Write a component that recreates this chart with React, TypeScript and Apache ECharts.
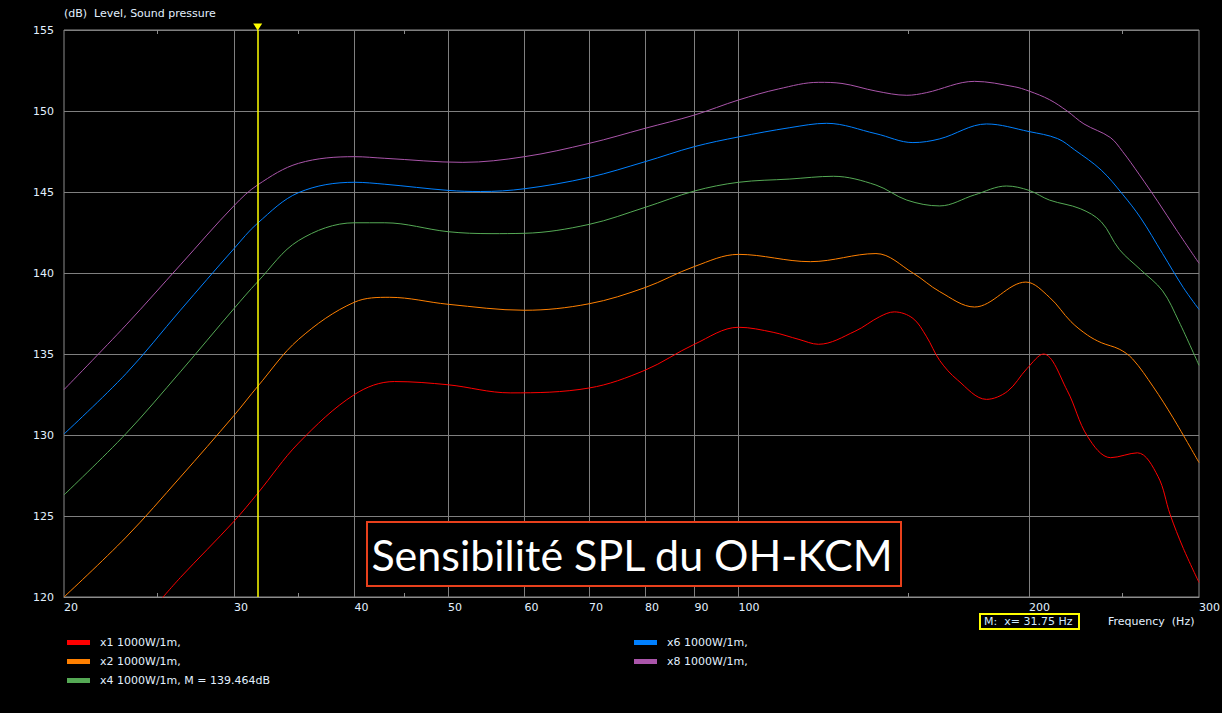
import React, { useEffect, useRef } from "react";
import * as echarts from "echarts";

// ---- Data (frequency in Hz, level in dB) ----
const FREQ_X1 = [25, 26.4, 30, 31.75, 35, 40, 44, 50, 58, 70, 80, 90, 100, 108.6, 115.5, 121, 132, 140, 145, 151.6, 156.5, 161.6, 168.6, 180.7, 190, 199, 207, 219, 230, 243, 259, 272, 280, 289, 300];
const LVL_X1 = [119.6, 121.2, 124.67, 126.4, 129.5, 132.5, 133.3, 133.1, 132.6, 132.9, 134.0, 135.6, 136.65, 136.34, 135.9, 135.6, 136.4, 137.3, 137.6, 137.2, 136.1, 134.6, 133.4, 132.2, 132.7, 134.1, 135.0, 132.76, 129.9, 128.6, 128.9, 127.45, 125.1, 123.0, 120.9];

const FREQ_X2 = [20, 23.2, 26.4, 30, 31.75, 35, 40, 43.5, 50, 60, 70, 80, 90, 100, 118.7, 138.8, 151.6, 161.6, 175.6, 198.5, 210, 221, 230, 237.6, 248, 256, 269, 282, 300];
const LVL_X2 = [120.0, 123.7, 127.4, 131.2, 133.0, 135.9, 138.2, 138.5, 138.07, 137.7, 138.1, 139.1, 140.4, 141.15, 140.7, 141.2, 140.0, 138.85, 137.9, 139.44, 138.5, 137.0, 136.16, 135.7, 135.3, 134.7, 132.97, 131.06, 128.3];

const FREQ_X4 = [20, 23.2, 26.4, 30, 31.75, 35, 40, 43, 50, 55.4, 60, 70, 80, 90, 100, 113, 125.4, 138.8, 149.4, 161.6, 175.6, 189.5, 200, 210, 226, 237.6, 248, 261, 275, 286, 300];
const LVL_X4 = [126.3, 130.1, 133.9, 137.8, 139.46, 142.0, 143.1, 143.1, 142.55, 142.43, 142.45, 143.0, 144.05, 145.06, 145.6, 145.8, 145.97, 145.43, 144.5, 144.14, 144.82, 145.37, 145.1, 144.5, 143.97, 143.16, 141.46, 140.2, 138.9, 137.0, 134.3];

const FREQ_X6 = [20, 23.2, 26.4, 30, 31.75, 35, 40, 43, 50, 54, 60, 70, 80, 90, 100, 113, 123.4, 138.8, 151.6, 161.6, 180.7, 200, 214, 223, 237.6, 250, 261, 275, 289, 300];
const LVL_X6 = [130.06, 133.8, 137.7, 141.5, 143.08, 144.96, 145.6, 145.48, 145.1, 145.03, 145.2, 145.9, 146.87, 147.8, 148.4, 148.97, 149.24, 148.6, 148.05, 148.28, 149.2, 148.73, 148.3, 147.6, 146.35, 144.86, 143.4, 141.2, 139.1, 137.75];

const FREQ_X8 = [20, 23.2, 26.4, 30, 31.75, 35, 40, 43, 51.8, 60, 70, 80, 90, 100, 110, 121, 128, 138.8, 149.4, 156.5, 175.6, 193, 200, 210, 219, 228, 242.7, 250, 260, 272, 284, 300];
const LVL_X8 = [132.8, 136.8, 140.5, 144.15, 145.44, 146.77, 147.18, 147.08, 146.83, 147.18, 148.0, 148.93, 149.75, 150.68, 151.36, 151.77, 151.7, 151.23, 150.97, 151.13, 151.83, 151.5, 151.23, 150.7, 150.0, 149.2, 148.37, 147.5, 146.1, 144.4, 142.7, 140.6];

const SERIES_NAMES = ["x1 1000W/1m,", "x2 1000W/1m,", "x4 1000W/1m, M = 139.464dB", "x6 1000W/1m,", "x8 1000W/1m,"];
const SERIES_COLORS = ["#ff0000", "#ff8000", "#55a955", "#0080ff", "#aa55aa"];

const X_LABEL_VALUES = [20, 30, 40, 50, 60, 70, 80, 90, 100, 200, 300];
const X_GRID_VALUES = [30, 40, 50, 60, 70, 80, 90, 100, 200];
const X_MINOR_TICKS = [25, 35, 45, 150, 250];
const Y_MIN = 120;
const Y_MAX = 155;
const Y_STEP = 5;
const X_MIN = 20;
const X_MAX = 300;
const MARKER_FREQ = 31.75;

const TITLE = "Sensibilité SPL du OH-KCM";
const Y_TITLE = "(dB)  Level, Sound pressure";
const X_TITLE = "Frequency  (Hz)";
const MARKER_TEXT = "M:  x= 31.75 Hz";

const TEXT_COLOR = "#e2f0ff";
const GRID_COLOR = "#7f7f7f";
const FONT = "DejaVu Sans";

function pairs(f: number[], v: number[]) {
  return f.map((x, i) => [x, v[i]]);
}

export default function App() {
  const ref = useRef<HTMLDivElement>(null);
  useEffect(() => {
    if (!ref.current) return;
    const chart = echarts.init(ref.current, undefined, { renderer: "svg" });
    const datasets = [
      pairs(FREQ_X1, LVL_X1),
      pairs(FREQ_X2, LVL_X2),
      pairs(FREQ_X4, LVL_X4),
      pairs(FREQ_X6, LVL_X6),
      pairs(FREQ_X8, LVL_X8),
    ];
    const series: any[] = datasets.map((d, i) => ({
      type: "line",
      name: SERIES_NAMES[i],
      data: d,
      xAxisIndex: 0,
      yAxisIndex: 0,
      showSymbol: false,
      smooth: 0.35,
      clip: true,
      z: 3,
      lineStyle: { color: SERIES_COLORS[i], width: 1 },
      itemStyle: { color: SERIES_COLORS[i] },
    }));
    series[0].markLine = {
      silent: true,
      symbol: "none",
      animation: false,
      label: { show: false },
      lineStyle: { color: "#ffff00", width: 1.5, type: "solid" },
      data: [{ xAxis: MARKER_FREQ }],
    };
    series[0].markPoint = {
      silent: true,
      animation: false,
      data: [
        {
          coord: [MARKER_FREQ, Y_MAX],
          symbol: "triangle",
          symbolSize: [9, 7],
          symbolRotate: 180,
          symbolOffset: [0, -3],
          itemStyle: { color: "#ffff00" },
          label: { show: false },
        },
      ],
    };

    const legendGraphics: any[] = [];
    const legendPos = [
      [67, 642],
      [67, 661],
      [67, 680],
      [634, 642],
      [634, 661],
    ];
    SERIES_NAMES.forEach((name, i) => {
      const [lx, ly] = legendPos[i];
      legendGraphics.push({
        type: "rect",
        left: lx,
        top: ly - 2,
        shape: { width: 23, height: 5 },
        style: { fill: SERIES_COLORS[i] },
      });
      legendGraphics.push({
        type: "text",
        x: lx + 33,
        y: ly,
        style: {
          text: name,
          fill: TEXT_COLOR,
          font: `11px "${FONT}"`,
          textAlign: "left",
          textVerticalAlign: "middle",
        },
      });
    });

    chart.setOption({
      animation: false,
      backgroundColor: "#000000",
      textStyle: { fontFamily: FONT },
      grid: {
        left: 64,
        right: 23,
        top: 30,
        bottom: 116,
        show: true,
        borderColor: "#8c8c8c",
        borderWidth: 1,
        backgroundColor: "#000000",
        containLabel: false,
        outerBoundsMode: "none",
      },
      xAxis: [
        {
          type: "log",
          logBase: 10,
          min: X_MIN,
          max: X_MAX,
          position: "bottom",
          axisLine: { show: true, lineStyle: { color: "#8c8c8c", width: 1 } },
          axisTick: { show: false, customValues: X_GRID_VALUES },
          splitLine: { show: true, lineStyle: { color: GRID_COLOR, width: 1 } },
          minorTick: { show: false },
          minorSplitLine: { show: false },
          axisLabel: {
            show: true,
            customValues: X_LABEL_VALUES,
            align: "left",
            margin: 5,
            color: TEXT_COLOR,
            fontSize: 11,
            fontFamily: FONT,
            showMinLabel: true,
            showMaxLabel: true,
            hideOverlap: false,
          },
        },
        {
          type: "log",
          logBase: 10,
          min: X_MIN,
          max: X_MAX,
          position: "top",
          axisLine: { show: false },
          axisTick: { show: true, inside: true, length: 4, customValues: X_MINOR_TICKS, lineStyle: { color: "#8c8c8c" } },
          splitLine: { show: false },
          axisLabel: { show: false },
        },
        {
          type: "log",
          logBase: 10,
          min: X_MIN,
          max: X_MAX,
          position: "bottom",
          axisLine: { show: false },
          axisTick: { show: true, inside: true, length: 4, customValues: X_MINOR_TICKS, lineStyle: { color: "#8c8c8c" } },
          splitLine: { show: false },
          axisLabel: { show: false },
        },
      ],
      yAxis: {
        type: "value",
        min: Y_MIN,
        max: Y_MAX,
        interval: Y_STEP,
        axisLine: { show: false },
        axisTick: { show: false },
        splitLine: { show: true, lineStyle: { color: GRID_COLOR, width: 1 } },
        axisLabel: { color: TEXT_COLOR, fontSize: 11, fontFamily: FONT, margin: 10 },
      },
      series,
      graphic: [
        {
          type: "text",
          x: 64,
          y: 13,
          style: {
            text: Y_TITLE,
            fill: TEXT_COLOR,
            font: `11px "${FONT}"`,
            textAlign: "left",
            textVerticalAlign: "middle",
          },
        },
        {
          type: "text",
          x: 1108,
          y: 621,
          style: {
            text: X_TITLE,
            fill: TEXT_COLOR,
            font: `11px "${FONT}"`,
            textAlign: "left",
            textVerticalAlign: "middle",
          },
        },
        {
          type: "rect",
          left: 979,
          top: 613,
          z: 10,
          shape: { width: 99, height: 15 },
          style: { fill: "#000000", stroke: "#ffff00", lineWidth: 2 },
        },
        {
          type: "text",
          x: 984,
          y: 621,
          z: 11,
          style: {
            text: MARKER_TEXT,
            fill: "#cfeaff",
            font: `11px "${FONT}"`,
            textAlign: "left",
            textVerticalAlign: "middle",
          },
        },
        {
          type: "rect",
          left: 366,
          top: 521,
          z: 10,
          shape: { x: 0, y: 0, width: 534, height: 64 },
          style: { fill: "#000000", stroke: "#e8401c", lineWidth: 2 },
        },
        {
          type: "text",
          x: 632,
          y: 554,
          z: 11,
          style: {
            text: TITLE,
            fill: "#ffffff",
            font: `43px "Lato"`,
            textAlign: "center",
            textVerticalAlign: "middle",
          },
        },
        ...legendGraphics,
      ],
    });
    return () => chart.dispose();
  }, []);
  return (
    <div
      ref={ref}
      style={{ position: "fixed", left: 0, top: 0, width: 1222, height: 713, background: "#000" }}
    />
  );
}
